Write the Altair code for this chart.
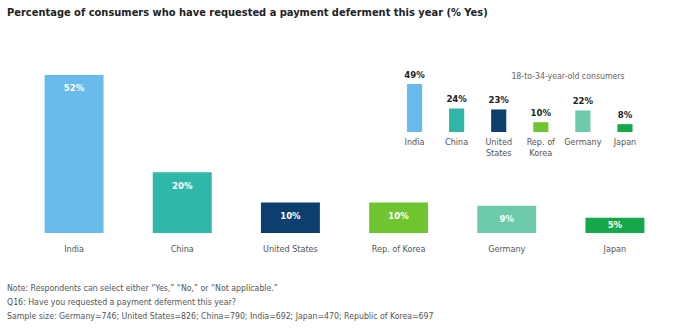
import altair as alt
import pandas as pd

FONT = "DejaVu Sans Condensed"

countries = ["India", "China", "United States", "Rep. of Korea", "Germany", "Japan"]
inset_labels = ["India", "China", "United\nStates", "Rep. of\nKorea", "Germany", "Japan"]
all_values = [52, 20, 10, 10, 9, 5]
young_values = [49, 24, 23, 10, 22, 8]
colors = ["#68BBEA", "#2FB7AA", "#0D3F6E", "#6FC52F", "#6DCAAA", "#14A84B"]

title_text = "Percentage of consumers who have requested a payment deferment this year (% Yes)"
inset_title = "18-to-34-year-old consumers"
notes = [
    "Note: Respondents can select either \u201cYes,\u201d \u201cNo,\u201d or \u201cNot applicable.\u201d",
    "Q16: Have you requested a payment deferment this year?",
    "Sample size: Germany=746; United States=826; China=790; India=692; Japan=470; Republic of Korea=697",
]

main_df = pd.DataFrame({"country": countries, "value": all_values,
                        "label": [f"{v}%" for v in all_values]})
inset_df = pd.DataFrame({"country": inset_labels, "value": young_values,
                         "label": [f"{v}%" for v in young_values]})

color_scale = alt.Scale(domain=countries, range=colors)
color_scale_inset = alt.Scale(domain=inset_labels, range=colors)

main_y_scale = alt.Scale(domain=[0, 52], range=[233, 75], nice=False)
mx = alt.X("country:N", sort=countries, axis=None,
           scale=alt.Scale(range=[20, 669], paddingInner=0.455, paddingOuter=0.2275))
my = alt.Y("value:Q", axis=None, scale=main_y_scale)

main_base = alt.Chart(main_df)
main_bars = main_base.mark_bar().encode(
    x=mx, y=my, y2=alt.datum(0),
    color=alt.Color("country:N", scale=color_scale, legend=None))
main_vals = main_base.transform_calculate(
    lab_y="max(datum.value - 4.4, datum.value / 2)"
).mark_text(font=FONT, fontWeight="bold", fontSize=9.5, color="white",
            baseline="middle").encode(
    x=mx, y=alt.Y("lab_y:Q", axis=None, scale=main_y_scale), text="label:N")
main_cats = main_base.mark_text(font=FONT, fontSize=9, color="#555555",
                                baseline="middle").encode(x=mx, y=alt.value(248.5), text="country:N")

main_layer = alt.layer(main_bars, main_vals, main_cats)

ix = alt.X("country:N", sort=inset_labels, axis=None,
           scale=alt.Scale(range=[393.5, 646], paddingInner=0.64, paddingOuter=0.32))
iy = alt.Y("value:Q", axis=None, scale=alt.Scale(domain=[0, 49], range=[132, 84], nice=False))

inset_base = alt.Chart(inset_df)
inset_bars = inset_base.mark_bar().encode(
    x=ix, y=iy, y2=alt.datum(0),
    color=alt.Color("country:N", scale=color_scale_inset, legend=None))
inset_vals = inset_base.mark_text(font=FONT, fontWeight="bold", fontSize=9.5, color="#222222",
                                  baseline="middle", dy=-9).encode(x=ix, y=iy, text="label:N")
inset_cats = inset_base.mark_text(font=FONT, fontSize=9, color="#555555", baseline="middle",
                                  lineBreak="\n", lineHeight=11).encode(
    x=ix, y=alt.value(142), text="country:N")

inset_layer = alt.layer(inset_bars, inset_vals, inset_cats)

title_mark = alt.Chart(pd.DataFrame({"t": [title_text]})).mark_text(
    font=FONT, fontWeight="bold", fontSize=11, color="#222222", align="left", baseline="middle"
).encode(x=alt.value(7), y=alt.value(13), text="t:N")

inset_title_mark = alt.Chart(pd.DataFrame({"t": [inset_title]})).mark_text(
    font=FONT, fontSize=8.7, color="#666666", align="center", baseline="middle"
).encode(x=alt.value(568), y=alt.value(76), text="t:N")

notes_mark = alt.Chart(pd.DataFrame({"t": notes, "i": [0, 1, 2]})).mark_text(
    font=FONT, fontSize=8.7, color="#555555", align="left", baseline="middle"
).encode(x=alt.value(7),
         y=alt.Y("i:Q", axis=None, scale=alt.Scale(domain=[0, 2], range=[288, 316], nice=False, zero=False)),
         text="t:N")

chart = alt.layer(main_layer, inset_layer, title_mark, inset_title_mark, notes_mark).resolve_scale(
    x="independent", y="independent", color="independent"
).properties(
    width=700, height=328, padding=0, autosize=alt.AutoSizeParams(type="none"), background="white"
).configure_view(stroke=None)

chart.save("out.html", embed_options={"renderer": "svg", "actions": False})
